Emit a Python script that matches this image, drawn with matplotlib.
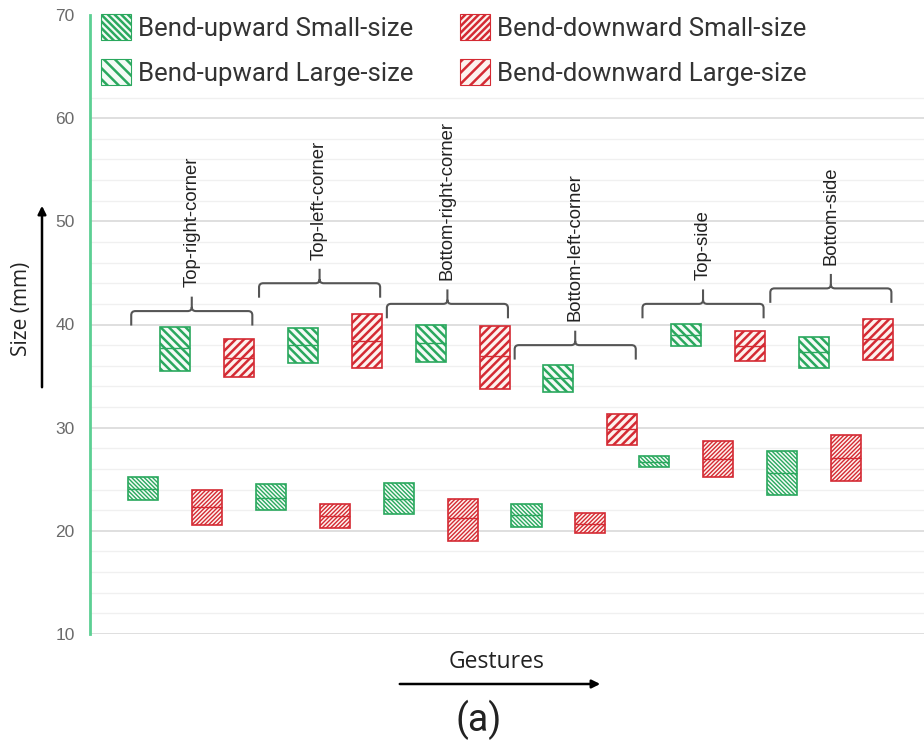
import numpy as np
import matplotlib.pyplot as plt
from matplotlib.patches import Patch, PathPatch, FancyArrowPatch
from matplotlib.path import Path

# data (mm)
gestures = ['Top-right-corner', 'Top-left-corner', 'Bottom-right-corner',
            'Bottom-left-corner', 'Top-side', 'Bottom-side']

up_small_low = [23.0, 22.0, 21.6, 20.4, 26.2, 23.5]
up_small_med = [24.1, 23.2, 23.1, 21.5, 26.7, 25.6]
up_small_high = [25.2, 24.5, 24.6, 22.6, 27.3, 27.7]
up_large_low = [35.5, 36.3, 36.4, 33.5, 37.9, 35.8]
up_large_med = [37.7, 38.0, 38.2, 34.8, 39.0, 37.3]
up_large_high = [39.8, 39.7, 40.0, 36.1, 40.0, 38.8]
down_small_low = [20.6, 20.3, 19.0, 19.8, 25.2, 24.8]
down_small_med = [22.3, 21.4, 21.2, 20.7, 27.0, 27.1]
down_small_high = [24.0, 22.6, 23.1, 21.7, 28.7, 29.3]
down_large_low = [34.9, 35.8, 33.7, 28.3, 36.5, 36.6]
down_large_med = [36.8, 38.4, 36.9, 29.9, 37.9, 38.6]
down_large_high = [38.6, 41.0, 39.9, 31.3, 39.4, 40.5]

brace_level = [41.3, 44.0, 42.0, 38.0, 42.0, 43.5]

labels = ['Bend-upward Small-size', 'Bend-upward Large-size',
          'Bend-downward Small-size', 'Bend-downward Large-size']

green = '#2aa85e'
red = '#d42a33'
green_face = '#f4fbf6'
red_face = '#fdf2ee'

W, H = 924, 751
fig = plt.figure(figsize=(W / 100, H / 100), dpi=100)
ax = fig.add_axes([90 / W, 1 - 634 / H, 1 - 90 / W, (634 - 15) / H])


def fx(px):
    return px / W


def fy(py):
    return 1 - py / H


# grid lines (drawn by hand, none above 62)
minor = [v for v in range(12, 63, 2) if v % 10 != 0]
ax.hlines(minor, -2, 25, color='#f0f0f0', lw=1, zorder=0)
ax.hlines([10, 20, 30, 40, 50, 60], -2, 25, color='#dcdcdc', lw=1.3, zorder=0)

groups = np.arange(len(gestures)) * 4
# x, low, median, high, colour, face, box hatch, legend hatch, hatch width
series = [
    (groups + 0, up_small_low, up_small_med, up_small_high, green, green_face,
     '\\' * 8, '\\' * 5, 1.0),
    (groups + 1, up_large_low, up_large_med, up_large_high, green, green_face,
     '\\' * 4, '\\' * 3, 1.8),
    (groups + 2, down_small_low, down_small_med, down_small_high, red, red_face,
     '/' * 8, '/' * 5, 1.0),
    (groups + 3, down_large_low, down_large_med, down_large_high, red, red_face,
     '/' * 4, '/' * 3, 1.8),
]

handles = []
for (xs, lo, med, hi, col, face, hatch, lhatch, hlw), lab in zip(series, labels):
    lo = np.array(lo)
    hi = np.array(hi)
    plt.rcParams['hatch.linewidth'] = hlw
    bars = ax.bar(xs, hi - lo, bottom=lo, width=0.94, facecolor=face,
                  edgecolor=col, hatch=hatch, lw=1.2, zorder=3)
    for p in bars:
        if hasattr(p, 'set_hatch_linewidth'):
            p.set_hatch_linewidth(hlw)
    ax.hlines(med, xs - 0.47, xs + 0.47, color=col, lw=1.0, zorder=4)
    h = Patch(facecolor=face, edgecolor=col, hatch=lhatch, lw=0.8, label=lab)
    if hasattr(h, 'set_hatch_linewidth'):
        h.set_hatch_linewidth(hlw)
    handles.append(h)

# braces with the gesture names
t = 1.4
rx, ry = 0.13, 0.4
for g, name in enumerate(gestures):
    x0 = 4 * g - 0.37
    x1 = 4 * g + 3.42
    xm = (x0 + x1) / 2
    L = brace_level[g]
    verts = [(x0, L - t), (x0, L - ry), (x0, L), (x0 + rx, L), (xm - rx, L),
             (xm, L), (xm, L + ry), (xm, L + t),
             (xm, L + ry), (xm, L), (xm + rx, L), (x1 - rx, L),
             (x1, L), (x1, L - ry), (x1, L - t)]
    codes = [Path.MOVETO, Path.LINETO, Path.CURVE3, Path.CURVE3, Path.LINETO,
             Path.CURVE3, Path.CURVE3, Path.LINETO,
             Path.MOVETO, Path.CURVE3, Path.CURVE3, Path.LINETO,
             Path.CURVE3, Path.CURVE3, Path.LINETO]
    ax.add_patch(PathPatch(Path(verts, codes), fill=False, edgecolor='#555555',
                           lw=1.5, zorder=3))
    ax.text(xm, L + t + 0.9, name, rotation=90, ha='center', va='bottom',
            fontsize=13.3, family='Liberation Sans', color='#222222')

ax.set_xlim(-1.66, 24.44)
ax.set_ylim(10, 70)
ax.set_xticks([])
ax.set_yticks([10, 20, 30, 40, 50, 60, 70])
ax.tick_params(axis='y', length=0, pad=11, labelsize=12.5, labelcolor='#6a6a6a')
for lab in ax.get_yticklabels():
    lab.set_family('Liberation Sans')
for s in ['top', 'right', 'bottom']:
    ax.spines[s].set_visible(False)
ax.spines['left'].set_color('#5ccf93')
ax.spines['left'].set_linewidth(2)

fig.legend(handles=handles, ncol=2, loc='upper left',
           bbox_to_anchor=(fx(101), fy(14)), frameon=False,
           prop={'family': 'Roboto', 'size': 18.5}, labelcolor='#333333',
           handlelength=1.17, handleheight=1.17, handletextpad=0.28,
           columnspacing=1.8, labelspacing=0.72, borderpad=0,
           borderaxespad=0)

# axis captions with arrows
fig.text(fx(22), fy(309), 'Size (mm)', rotation=90, ha='center', va='center',
         fontsize=15, family='Open Sans', color='#222222')
fig.patches.append(FancyArrowPatch(
    (fx(42), fy(390)), (fx(42), fy(203)), transform=fig.transFigure,
    arrowstyle='-|>', mutation_scale=12, lw=1.8, color='black'))
fig.text(fx(497), fy(662), 'Gestures', ha='center', va='center',
         fontsize=16.5, family='Open Sans', color='#222222')
fig.patches.append(FancyArrowPatch(
    (fx(397), fy(684)), (fx(603), fy(684)), transform=fig.transFigure,
    arrowstyle='-|>', mutation_scale=12, lw=1.8, color='black'))
fig.text(fx(479), fy(720), '(a)', ha='center', va='center',
         fontsize=27, family='Roboto', color='#222222')

plt.savefig('out.png', dpi=100)
